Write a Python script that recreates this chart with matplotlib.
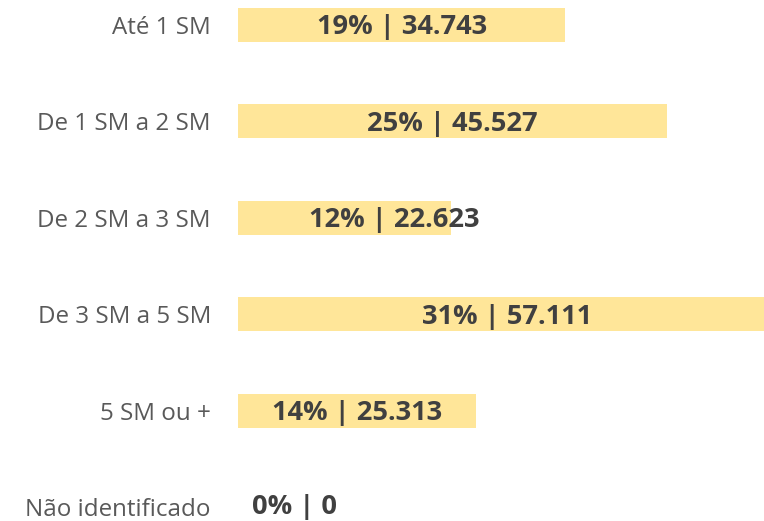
import matplotlib
matplotlib.use("Agg")
import matplotlib.pyplot as plt

categories = ["Até 1 SM", "De 1 SM a 2 SM", "De 2 SM a 3 SM",
              "De 3 SM a 5 SM", "5 SM ou +", "Não identificado"]
counts = [34743, 45527, 22623, 57111, 25313, 0]
percents = [19, 25, 12, 31, 14, 0]

# label nudges in pixels (style), for labels not centred in bar
label_shift_px = [0, 0, 50, 0, 0, 57]
label_dy_px = [-2.5, -2.5, -2.5, -2.5, -2.5, 0]

plt.rcParams['font.family'] = ['Open Sans', 'DejaVu Sans']

W, H, DPI = 764, 521, 100
fig = plt.figure(figsize=(W / DPI, H / DPI), dpi=DPI)
ax = fig.add_axes([238 / W, 0, 1 - 238 / W, 1])

ypos = list(range(len(categories)))
ax.barh(ypos, counts, height=0.352, color="#FFE699", edgecolor="none")
ax.set_xlim(0, 55840)
ax.set_ylim(5.14, -0.254)

ax.set_yticks(ypos)
ax.set_yticklabels(categories, fontsize=17.4, color="#595959")
ax.tick_params(axis='y', length=0, pad=19.5)
ax.tick_params(axis='x', bottom=False, labelbottom=False)
for s in ax.spines.values():
    s.set_visible(False)

for i, (c, p) in enumerate(zip(counts, percents)):
    lab = f"{p}% | {c:,}".replace(",", ".")
    ax.annotate(lab, xy=(c / 2, i),
                xytext=(label_shift_px[i] * 0.72, label_dy_px[i] * 0.72),
                textcoords="offset points", ha="center", va="center",
                fontsize=19.6, fontweight="bold", color="#404040",
                annotation_clip=False)

fig.savefig("out.png", dpi=DPI)
